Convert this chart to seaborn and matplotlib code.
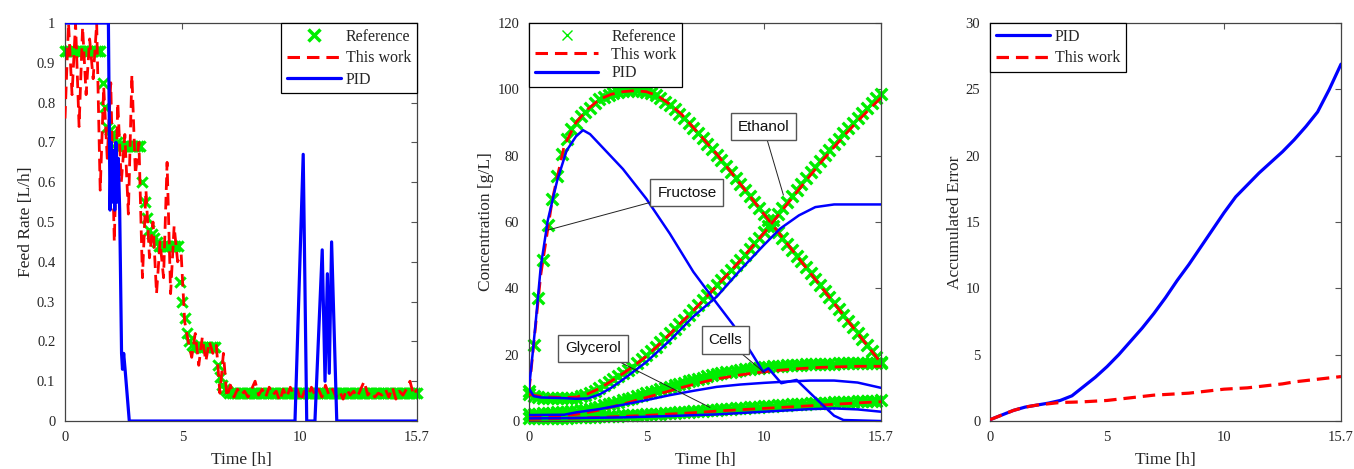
import matplotlib.pyplot as plt
import numpy as np
import seaborn as sns
from matplotlib.lines import Line2D
from matplotlib.ticker import FormatStrFormatter

sns.set_theme(style="white")
plt.rcParams['font.family'] = ['Liberation Serif', 'DejaVu Serif']
plt.rcParams['lines.scale_dashes'] = False
plt.rcParams['lines.dashed_pattern'] = [9, 5]

GREEN = '#00ee00'
RED = '#ff0000'
BLUE = '#0000ff'
SANS = ['Liberation Sans', 'DejaVu Sans']

# time axis: drawn 0..15, last tick reads 15.7
TIME_TICKS = [0, 5, 10, 15]
TIME_LABELS = ['0', '5', '10', '15.7']

# ---- panel 1: feed rate ----
# reference feed, every 0.1 h
feed_ref = [
    0.93, 0.93, 0.93, 0.93, 0.93, 0.93, 0.93, 0.93, 0.93, 0.93,
    0.93, 0.93, 0.93, 0.93, 0.93, 0.93, 0.85, 0.79, 0.74, 0.73,
    0.72, 0.71, 0.70, 0.69, 0.69, 0.69, 0.69, 0.69, 0.69, 0.69,
    0.69, 0.69, 0.69, 0.60, 0.55, 0.51, 0.48, 0.47, 0.46, 0.45,
    0.44, 0.44, 0.44, 0.44, 0.44, 0.44, 0.44, 0.44, 0.44, 0.35,
    0.30, 0.26, 0.22, 0.20, 0.19, 0.185, 0.185, 0.185, 0.185, 0.185,
    0.185, 0.185, 0.185, 0.185, 0.185, 0.14, 0.11, 0.09, 0.08, 0.075,
    0.07, 0.07, 0.07, 0.07, 0.07, 0.07, 0.07, 0.07, 0.07, 0.07,
    0.07, 0.07, 0.07, 0.07, 0.07, 0.07, 0.07, 0.07, 0.07, 0.07,
    0.07, 0.07, 0.07, 0.07, 0.07, 0.07, 0.07, 0.07, 0.07, 0.07,
    0.07, 0.07, 0.07, 0.07, 0.07, 0.07, 0.07, 0.07, 0.07, 0.07,
    0.07, 0.07, 0.07, 0.07, 0.07, 0.07, 0.07, 0.07, 0.07, 0.07,
    0.07, 0.07, 0.07, 0.07, 0.07, 0.07, 0.07, 0.07, 0.07, 0.07,
    0.07, 0.07, 0.07, 0.07, 0.07, 0.07, 0.07, 0.07, 0.07, 0.07,
    0.07, 0.07, 0.07, 0.07, 0.07, 0.07, 0.07, 0.07, 0.07, 0.07,
    0.07,
]
# this work feed, every 0.15 h
feed_this = [
    0.76, 1.00, 0.82, 1.00, 0.74, 0.99, 0.82, 0.96, 0.86, 1.00,
    0.58, 0.84, 0.66, 0.85, 0.45, 0.80, 0.60, 0.72, 0.52, 0.87,
    0.62, 0.70, 0.36, 0.58, 0.41, 0.50, 0.32, 0.45, 0.36, 0.65,
    0.32, 0.49, 0.40, 0.42, 0.25, 0.20, 0.16, 0.22, 0.14, 0.21,
    0.15, 0.20, 0.17, 0.19, 0.07, 0.17, 0.06, 0.09, 0.06, 0.08,
    0.065, 0.075, 0.06, 0.08, 0.10, 0.065, 0.08, 0.06, 0.085, 0.065,
    0.075, 0.05, 0.08, 0.06, 0.085, 0.065, 0.08, 0.05, 0.075, 0.06,
    0.085, 0.065, 0.08, 0.06, 0.09, 0.065, 0.08, 0.06, 0.075, 0.055,
    0.08, 0.065, 0.075, 0.06, 0.08, 0.10, 0.065, 0.075, 0.06, 0.07,
    0.065, 0.08, 0.06, 0.085, 0.055, 0.075, 0.065, 0.08, 0.10, 0.065,
    0.08,
]
feed_pid_t = [0, 1.85, 1.92, 1.97, 2.02, 2.07, 2.12, 2.17, 2.22, 2.27, 2.33,
              2.41, 2.45, 2.5, 2.56, 2.74, 9.8, 10.15, 10.3, 10.65, 10.96,
              11.08, 11.18, 11.26, 11.36, 11.58, 15]
feed_pid = [1, 1, 0.53, 0.70, 0.55, 0.68, 0.53, 0.70, 0.55, 0.66, 0.53,
            0.17, 0.13, 0.17, 0.13, 0, 0, 0.67, 0, 0, 0.43,
            0.10, 0.37, 0.12, 0.45, 0, 0]

# ---- panel 2: concentrations ----
# reference, every 0.2 h
fru_ref = [
    9.0, 23.0, 37.0, 48.5, 59.0, 67.0, 74.0, 80.5, 85.0, 88.0,
    90.0, 92.0, 93.3, 94.5, 95.8, 97.0, 97.7, 98.3, 98.8, 99.2,
    99.5, 99.6, 99.7, 99.7, 99.6, 99.3, 98.9, 98.2, 97.3, 96.3,
    95.2, 94.0, 92.7, 91.3, 89.8, 88.3, 86.7, 85.2, 83.6, 82.0,
    80.3, 78.6, 76.9, 75.1, 73.3, 71.5, 69.7, 67.9, 66.1, 64.3,
    62.5, 60.7, 58.9, 57.1, 55.3, 53.5, 51.7, 49.9, 48.1, 46.3,
    44.5, 42.7, 40.9, 39.1, 37.3, 35.5, 33.7, 31.9, 30.1, 28.3,
    26.5, 24.7, 22.9, 21.1, 19.4, 17.8,
]
eth_ref = [
    8.0, 7.5, 7.2, 7.0, 7.0, 6.9, 6.8, 6.8, 6.8, 6.9,
    7.0, 7.4, 7.9, 8.5, 9.2, 10.0, 10.9, 11.8, 12.7, 13.6,
    14.5, 15.5, 16.4, 17.4, 18.6, 19.8, 21.1, 22.4, 23.7, 25.0,
    26.4, 27.8, 29.2, 30.6, 32.0, 33.5, 35.0, 36.4, 37.9, 39.4,
    40.9, 42.4, 43.9, 45.4, 47.0, 48.6, 50.2, 51.9, 53.6, 55.3,
    57.0, 58.8, 60.6, 62.4, 64.2, 66.0, 67.8, 69.6, 71.4, 73.2,
    75.0, 76.7, 78.4, 80.1, 81.8, 83.5, 85.1, 86.7, 88.3, 89.9,
    91.4, 92.9, 94.4, 95.9, 97.3, 98.7,
]
cells_ref = [
    2.0, 2.1, 2.2, 2.3, 2.4, 2.5, 2.6, 2.7, 2.8, 2.9,
    3.0, 3.2, 3.4, 3.7, 4.0, 4.3, 4.7, 5.0, 5.4, 5.8,
    6.2, 6.6, 7.0, 7.5, 7.9, 8.4, 8.8, 9.2, 9.6, 10.0,
    10.4, 10.8, 11.2, 11.6, 12.0, 12.4, 12.8, 13.1, 13.5, 13.8,
    14.1, 14.4, 14.7, 14.9, 15.2, 15.4, 15.6, 15.8, 16.0, 16.1,
    16.3, 16.4, 16.5, 16.6, 16.7, 16.8, 16.9, 17.0, 17.0, 17.1,
    17.1, 17.2, 17.2, 17.3, 17.3, 17.3, 17.4, 17.4, 17.4, 17.5,
    17.5, 17.5, 17.5, 17.6, 17.6, 17.6,
]
gly_ref = [
    0.8, 0.8, 0.85, 0.9, 0.9, 0.95, 1.0, 1.0, 1.05, 1.1,
    1.15, 1.2, 1.25, 1.3, 1.35, 1.4, 1.45, 1.5, 1.55, 1.6,
    1.7, 1.75, 1.8, 1.9, 1.95, 2.0, 2.1, 2.15, 2.25, 2.3,
    2.4, 2.5, 2.6, 2.7, 2.8, 2.9, 3.0, 3.1, 3.2, 3.3,
    3.4, 3.5, 3.6, 3.7, 3.8, 3.9, 4.0, 4.1, 4.2, 4.3,
    4.4, 4.5, 4.6, 4.7, 4.8, 4.9, 5.0, 5.05, 5.1, 5.2,
    5.3, 5.35, 5.4, 5.5, 5.55, 5.6, 5.7, 5.75, 5.8, 5.85,
    5.9, 6.0, 6.05, 6.1, 6.15, 6.2,
]
# this work, every 0.5 h
fru_this = [9.0, 44.0, 67.0, 83.0, 90.0, 94.0, 97.0, 98.5, 99.3, 99.6,
            99.3, 98.0, 95.5, 92.5, 88.5, 84.5, 80.5, 76.0, 71.5, 67.0,
            62.5, 58.0, 53.5, 49.0, 44.5, 40.0, 35.5, 31.0, 26.5, 22.0,
            17.5]
eth_this = [8.0, 7.4, 7.2, 7.1, 7.2, 8.2, 9.8, 12.0, 14.3, 16.8,
            19.5, 22.8, 26.2, 29.8, 33.3, 37.0, 40.7, 44.5, 48.4, 52.5,
            56.6, 61.0, 65.4, 69.8, 74.2, 78.5, 82.6, 86.6, 90.4, 94.0,
            97.5]
cells_this = [1.0, 1.2, 1.4, 1.7, 2.0, 2.6, 3.3, 4.2, 5.1, 6.1,
              7.1, 8.1, 9.1, 10.1, 11.0, 11.9, 12.7, 13.3, 13.9, 14.4,
              14.8, 15.2, 15.5, 15.8, 16.0, 16.2, 16.3, 16.4, 16.5, 16.5,
              16.5]
gly_this = [0.5, 0.6, 0.7, 0.8, 0.9, 1.0, 1.1, 1.25, 1.4, 1.55,
            1.7, 1.9, 2.1, 2.3, 2.5, 2.75, 3.0, 3.2, 3.4, 3.6,
            3.8, 4.0, 4.2, 4.4, 4.6, 4.85, 5.05, 5.25, 5.45, 5.65,
            5.8]
# PID
fru_pid_t = [0, 0.15, 0.3, 0.5, 0.8, 1.2, 1.6, 2.0, 2.3, 2.6, 3.0, 4.0, 5.0,
             6.0, 7.0, 8.0, 8.7, 9.5, 9.97, 10.2, 10.75, 11.4, 12.0, 12.5,
             13.0, 13.4, 15]
fru_pid = [9.8, 20, 31, 46.5, 60.5, 72.5, 81.5, 85.8, 87.7, 86.5, 83.5, 76,
           67, 56.5, 45, 35.5, 29, 20.3, 14.9, 15.9, 11.4, 12.4, 8.3, 4.9,
           1.6, 0.3, 0]
eth_pid_t = [0, 0.2, 0.5, 1.0, 1.5, 2.0, 2.5, 3.0, 3.5, 4.0, 5.0, 6.0, 7.0,
             8.0, 9.0, 10.0, 10.7, 11.5, 12.2, 13.0, 15.0]
eth_pid = [9.8, 7.5, 7.1, 7.0, 6.9, 6.7, 6.8, 8.0, 10.0, 12.5, 17.8, 24.3,
           31.5, 37.5, 45.5, 53.0, 58.0, 62.0, 64.5, 65.3, 65.3]
cells_pid_t = [0, 1.5, 2, 3, 4, 5, 6, 7, 8, 9, 10, 11, 12, 13, 14, 15]
cells_pid = [1.8, 1.9, 2.6, 3.6, 4.9, 6.3, 7.8, 9.1, 10.3, 11.0, 11.5, 11.9,
             12.2, 12.2, 11.6, 10.0]
gly_pid_t = [0, 2, 4, 6, 8, 10, 12, 13, 14, 15]
gly_pid = [0.8, 0.9, 1.1, 1.5, 2.0, 2.8, 3.6, 3.8, 3.5, 2.8]

# ---- panel 3: accumulated error ----
err_t = [0, 0.5, 1, 1.5, 2, 2.5, 3, 3.5, 4, 4.5, 5, 5.5, 6, 6.5, 7, 7.5, 8,
         8.5, 9, 9.5, 10, 10.5, 11, 11.5, 12, 12.5, 13, 13.5, 14, 14.5, 15]
err_pid = [0.1, 0.45, 0.8, 1.05, 1.2, 1.35, 1.55, 1.9, 2.6, 3.3, 4.1, 5.0,
           6.0, 7.0, 8.1, 9.3, 10.6, 11.8, 13.1, 14.4, 15.7, 16.9, 17.8, 18.7,
           19.5, 20.3, 21.2, 22.2, 23.3, 25.0, 26.9]
err_this = [0.1, 0.45, 0.8, 1.05, 1.2, 1.3, 1.4, 1.42, 1.45, 1.5, 1.55, 1.65,
            1.75, 1.85, 1.95, 2.0, 2.05, 2.1, 2.2, 2.3, 2.4, 2.45, 2.5, 2.6,
            2.7, 2.8, 2.95, 3.05, 3.15, 3.25, 3.35]


def grid(values):
    return np.linspace(0, 15, len(values))


def style_axis(ax, ylim, yticks, ylabel, ypad):
    ax.set_xlim(0, 15)
    ax.set_ylim(*ylim)
    ax.set_xticks(TIME_TICKS)
    ax.set_xticklabels(TIME_LABELS)
    ax.set_yticks(yticks)
    ax.yaxis.set_major_formatter(FormatStrFormatter('%g'))
    ax.tick_params(direction='in', top=True, right=True, length=4,
                   width=0.8, color='#555555', labelsize=10.5,
                   labelcolor='#262626', pad=7)
    for sp in ax.spines.values():
        sp.set_color('#444444')
        sp.set_linewidth(0.9)
    ax.set_xlabel('Time [h]', fontsize=12.5, color='#262626', labelpad=6)
    ax.set_ylabel(ylabel, fontsize=12.5, color='#262626', labelpad=ypad)


def add_legend(ax, handles, labels, loc, spacing, hlen=3.4, tpad=0.3):
    leg = ax.legend(handles, labels, loc=loc, fontsize=11.5, frameon=True,
                    fancybox=False, framealpha=1, edgecolor='black',
                    borderaxespad=0, handlelength=hlen, handletextpad=tpad,
                    labelspacing=spacing, borderpad=0.35)
    leg.get_frame().set_linewidth(0.9)


def line(ax, t, v, color, lw, dashed=False, z=3):
    sns.lineplot(x=t, y=v, ax=ax, color=color, lw=lw, estimator=None,
                 sort=False, linestyle='--' if dashed else '-', zorder=z)


def tag(ax, text, tip, box):
    ax.annotate(text, xy=tip, xytext=box, ha='center', va='center',
                fontsize=11, family=SANS, color='#111111', zorder=6,
                bbox=dict(boxstyle='square,pad=0.45', fc='white',
                          ec='#555555', lw=1),
                arrowprops=dict(arrowstyle='-', color='#222222', lw=0.7,
                                shrinkA=0, shrinkB=0))


fig = plt.figure(figsize=(13.54, 4.69), dpi=100)
ax1 = fig.add_axes([0.0480, 0.1023, 0.2600, 0.8486])
ax2 = fig.add_axes([0.3907, 0.1023, 0.2600, 0.8486])
ax3 = fig.add_axes([0.7312, 0.1023, 0.2592, 0.8486])

# panel 1
sns.scatterplot(x=grid(feed_ref), y=feed_ref, ax=ax1, marker='x', color=GREEN,
                s=55, linewidth=2.2, clip_on=False, zorder=2)
line(ax1, grid(feed_this), feed_this, RED, 2.0, dashed=True)
line(ax1, feed_pid_t, feed_pid, BLUE, 2.3, z=4)
style_axis(ax1, (0, 1), np.round(np.arange(0, 1.01, 0.1), 1), 'Feed Rate [L/h]', 2)
add_legend(ax1, [Line2D([], [], color=GREEN, marker='x', ls='none', ms=9, mew=2.5),
                 Line2D([], [], color=RED, ls='--', lw=2.2),
                 Line2D([], [], color=BLUE, lw=2.3)],
           ['Reference', 'This work', 'PID'], 'upper right', 0.35)

# panel 2
for ref in [fru_ref, eth_ref, cells_ref, gly_ref]:
    sns.scatterplot(x=grid(ref), y=ref, ax=ax2, marker='x', color=GREEN,
                    s=70, linewidth=2.4, clip_on=False, zorder=2)
for this in [fru_this, eth_this, cells_this, gly_this]:
    line(ax2, grid(this), this, RED, 2.0, dashed=True)
for t, v in [(fru_pid_t, fru_pid), (eth_pid_t, eth_pid),
             (cells_pid_t, cells_pid), (gly_pid_t, gly_pid)]:
    line(ax2, t, v, BLUE, 1.8, z=4)
style_axis(ax2, (0, 120), range(0, 121, 20), 'Concentration [g/L]', 2.5)
add_legend(ax2, [Line2D([], [], color=GREEN, marker='x', ls='none', ms=7, mew=1),
                 Line2D([], [], color=RED, ls='--', lw=2.2),
                 Line2D([], [], color=BLUE, lw=2.3)],
           ['Reference', 'This work', 'PID'], 'upper left', 0.15,
           hlen=4.0, tpad=0.8)
tag(ax2, 'Fructose', (0.82, 57.6), (6.73, 68.9))
tag(ax2, 'Ethanol', (10.84, 68.1), (9.98, 88.8))
tag(ax2, 'Cells', (10.06, 14.4), (8.37, 24.4))
tag(ax2, 'Glycerol', (7.71, 4.1), (2.72, 21.9))

# panel 3
line(ax3, err_t, err_pid, BLUE, 2.3)
line(ax3, err_t, err_this, RED, 2.3, dashed=True)
style_axis(ax3, (0, 30), range(0, 31, 5), 'Accumulated Error', 2)
add_legend(ax3, [Line2D([], [], color=BLUE, lw=2.3),
                 Line2D([], [], color=RED, ls='--', lw=2.3)],
           ['PID', 'This work'], 'upper left', 0.35)

fig.savefig('out.png', dpi=100)
